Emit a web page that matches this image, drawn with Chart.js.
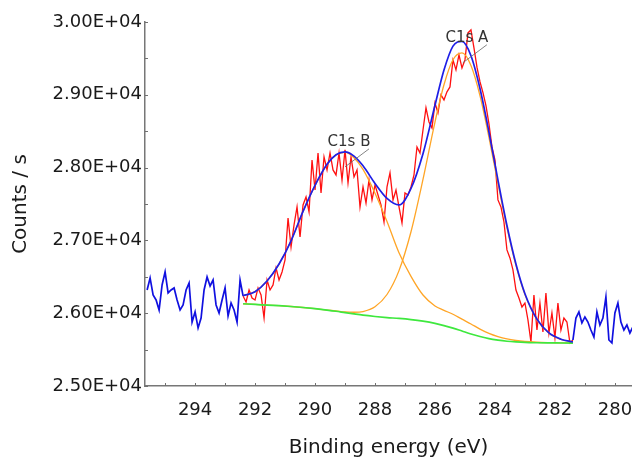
<!DOCTYPE html>
<html>
<head>
<meta charset="utf-8">
<script src="https://cdn.jsdelivr.net/npm/chart.js@4.4.1/dist/chart.umd.min.js"></script>
<style>
  html, body { margin: 0; padding: 0; background: #fff; }
</style>
</head>
<body>
<canvas id="xps" width="632" height="460"></canvas>
<script>
// measured spectrum, 0.1 eV steps
const rawEnergy = [
  295.6,295.5,295.4,295.3,295.2,295.1,295.0,294.9,294.8,294.7,
  294.6,294.5,294.4,294.3,294.2,294.1,294.0,293.9,293.8,293.7,
  293.6,293.5,293.4,293.3,293.2,293.1,293.0,292.9,292.8,292.7,
  292.6,292.5,292.4,292.3,292.2,292.1,292.0,291.9,291.8,291.7,
  291.6,291.5,291.4,291.3,291.2,291.1,291.0,290.9,290.8,290.7,
  290.6,290.5,290.4,290.3,290.2,290.1,290.0,289.9,289.8,289.7,
  289.6,289.5,289.4,289.3,289.2,289.1,289.0,288.9,288.8,288.7,
  288.6,288.5,288.4,288.3,288.2,288.1,288.0,287.9,287.8,287.7,
  287.6,287.5,287.4,287.3,287.2,287.1,287.0,286.9,286.8,286.7,
  286.6,286.5,286.4,286.3,286.2,286.1,286.0,285.9,285.8,285.7,
  285.6,285.5,285.4,285.3,285.2,285.1,285.0,284.9,284.8,284.7,
  284.6,284.5,284.4,284.3,284.2,284.1,284.0,283.9,283.8,283.7,
  283.6,283.5,283.4,283.3,283.2,283.1,283.0,282.9,282.8,282.7,
  282.6,282.5,282.4,282.3,282.2,282.1,282.0,281.9,281.8,281.7,
  281.6,281.5,281.4,281.3,281.2,281.1,281.0,280.9,280.8,280.7,
  280.6,280.5,280.4,280.3,280.2,280.1,280.0,279.9,279.8,279.7,
  279.6,279.5,279.4
];
const rawCounts = [
  26319,26484,26250,26182,26044,26388,26566,26278,26319,26347,
  26182,26044,26113,26319,26415,25879,26017,25797,25934,26319,
  26498,26374,26456,26113,26003,26182,26347,25962,26140,26044,
  25879,26456,26237,26154,26319,26209,26182,26347,26250,25934,
  26456,26319,26388,26621,26456,26566,26731,27308,26910,27212,
  27459,27047,27487,27597,27391,28105,27693,28201,27652,28146,
  27968,28201,27968,27899,28201,27830,28243,27789,28146,27872,
  27968,27459,27734,27514,27830,27556,27762,27624,27487,27253,
  27734,27927,27556,27693,27459,27240,27652,27624,27734,27899,
  28284,28201,28517,28820,28627,28545,28888,28751,28998,28930,
  29040,29108,29479,29342,29548,29369,29479,29850,29891,29644,
  29380,29180,29030,28850,28600,28284,28105,27556,27459,27253,
  26869,26759,26594,26319,26209,26085,26140,25907,25605,26250,
  25769,26140,25742,26278,25728,26003,25660,26140,25769,25934,
  25879,25591,25632,25934,26017,25866,25948,25879,25769,25673,
  26017,25838,25934,26223,25632,25591,26003,26140,25879,25769,
  25838,25728,25811
];

// fit curves
const fitEnergy = [292.4,292.0,291.6,291.2,290.8,290.4,290.0,289.6,289.3,289.0,288.7,288.4,288.0,287.6,287.2,286.8,
                   286.4,286.0,285.7,285.4,285.1,284.8,284.5,284.2,283.9,283.6,283.3,283.0,282.6,282.2,281.8,281.4];
const background = [26130,26120,26112,26103,26092,26078,26062,26043,26027,26008,25990,25973,25955,25940,25928,25912,
                    25890,25860,25830,25795,25755,25715,25680,25650,25630,25615,25605,25598,25594,25592,25591,25590];
const peakB = [26240,26296,26442,26675,26994,27398,27756,28045,28172,28208,28135,27975,27649,27260,26830,26506,
               26250,26100,26040,25985,25918,25852,25782,25722,25678,25646,25625,25611,25601,25596,25593,25590];
const peakA = [26130,26120,26112,26103,26092,26078,26062,26043,26031,26017,26013,26023,26089,26257,26585,27119,
               27838,28626,29138,29481,29575,29401,28988,28416,27781,27174,26656,26255,25911,25726,25641,25605];
const envelope = [26240,26296,26442,26675,26994,27398,27756,28045,28176,28217,28158,28025,27783,27577,27487,27713,
                  28190,28857,29340,29668,29733,29537,29087,28486,27829,27205,26676,26268,25918,25730,25643,25605];

const annoNames = ['C1s A', 'C1s B'];
const annoEnergy = [285.07, 289.0];
const annoCounts = [29440, 28010];

const xTickValues = [294, 292, 290, 288, 286, 284, 282, 280];
const xTickMarks = [295, 294, 293, 292, 291, 290, 289, 288, 287, 286, 285, 284, 283, 282, 281, 280];
const yTickValues = [25000, 26000, 27000, 28000, 29000, 30000];
const yTickMarks = [25000, 25500, 26000, 26500, 27000, 27500, 28000, 28500, 29000, 29500, 30000];

const fitLo = fitEnergy[fitEnergy.length - 1], fitHi = fitEnergy[0];
function inFit(e) { return e <= fitHi + 1e-6 && e >= fitLo - 1e-6; }
function pts(xs, ys) { return xs.map((e, i) => ({x: e, y: ys[i]})); }

const axisTicks = {
  id: 'axisTicks',
  afterDraw(chart) {
    const {ctx, chartArea: a, scales: {x, y}} = chart;
    ctx.save();
    ctx.strokeStyle = '#707070';
    ctx.lineWidth = 1;
    ctx.beginPath();
    xTickMarks.forEach(v => {
      const px = Math.round(x.getPixelForValue(v)) + 0.5;
      ctx.moveTo(px, a.bottom);
      ctx.lineTo(px, a.bottom - 3);
    });
    yTickMarks.forEach(v => {
      const py = Math.round(y.getPixelForValue(v)) + 0.5;
      ctx.moveTo(a.left, py);
      ctx.lineTo(a.left + 3, py);
    });
    ctx.stroke();
    ctx.restore();
  }
};

const peakLabels = {
  id: 'peakLabels',
  afterDatasetsDraw(chart) {
    const {ctx, scales: {x, y}} = chart;
    ctx.save();
    ctx.font = '15px "DejaVu Sans"';
    ctx.fillStyle = '#333';
    ctx.strokeStyle = '#666';
    ctx.lineWidth = 0.8;
    ctx.textAlign = 'center';
    ctx.textBaseline = 'middle';
    annoNames.forEach((name, i) => {
      const px = x.getPixelForValue(annoEnergy[i]);
      const py = y.getPixelForValue(annoCounts[i]);
      ctx.beginPath();
      ctx.moveTo(px, py);
      ctx.lineTo(px + 24, py - 18);
      ctx.stroke();
      ctx.fillText(name, px + 4, py - 25);
    });
    ctx.restore();
  }
};

new Chart(document.getElementById('xps'), {
  type: 'line',
  data: {
    datasets: [
      { data: pts(fitEnergy, envelope), borderColor: '#1e1ee6', borderWidth: 1.7, pointRadius: 0, cubicInterpolationMode: 'monotone' },
      { data: pts(fitEnergy, background), borderColor: '#3ee83e', borderWidth: 1.7, pointRadius: 0, cubicInterpolationMode: 'monotone' },
      { data: pts(fitEnergy, peakA), borderColor: '#ffa526', borderWidth: 1.3, pointRadius: 0, cubicInterpolationMode: 'monotone' },
      { data: pts(fitEnergy, peakB), borderColor: '#ffa526', borderWidth: 1.3, pointRadius: 0, cubicInterpolationMode: 'monotone' },
      {
        data: pts(rawEnergy, rawCounts), borderColor: '#ff1010', borderWidth: 1.3, pointRadius: 0, tension: 0,
        segment: {
          borderColor: c => inFit(c.p0.parsed.x) && inFit(c.p1.parsed.x) ? '#ff1010' : '#1010e0',
          borderWidth: c => inFit(c.p0.parsed.x) && inFit(c.p1.parsed.x) ? 1.3 : 1.7
        }
      }
    ]
  },
  options: {
    responsive: false,
    animation: false,
    events: [],
    layout: { padding: { top: 22, left: 0, right: 0, bottom: 0 } },
    plugins: { legend: { display: false }, tooltip: { enabled: false } },
    scales: {
      x: {
        type: 'linear',
        reverse: true,
        min: 279.43,
        max: 295.67,
        afterFit: s => { s.height = 74; s.paddingLeft = 0; s.paddingRight = 0; },
        afterBuildTicks: s => { s.ticks = xTickValues.map(v => ({value: v})); },
        grid: { display: false, drawTicks: false },
        border: { display: true, color: '#777', width: 1.5 },
        ticks: { padding: 14, color: '#1a1a1a', font: { family: 'DejaVu Sans', size: 18 }, maxRotation: 0, callback: v => String(v) },
        title: { display: true, text: 'Binding energy (eV)', color: '#1a1a1a', font: { family: 'DejaVu Sans', size: 20 }, padding: { top: 0, bottom: 0 } }
      },
      y: {
        min: 25000,
        max: 30000,
        afterFit: s => { s.width = 145; s.paddingTop = 0; s.paddingBottom = 0; },
        afterBuildTicks: s => { s.ticks = yTickValues.map(v => ({value: v})); },
        grid: { display: false, drawTicks: false },
        border: { display: true, color: '#777', width: 1.5 },
        ticks: { padding: 3, color: '#1a1a1a', font: { family: 'DejaVu Sans', size: 18 }, callback: v => (v / 10000).toFixed(2) + 'E+04' },
        title: { display: true, text: 'Counts / s', color: '#1a1a1a', font: { family: 'DejaVu Sans', size: 20 }, padding: { top: 9, bottom: 0 } }
      }
    }
  },
  plugins: [axisTicks, peakLabels]
});
</script>
</body>
</html>
